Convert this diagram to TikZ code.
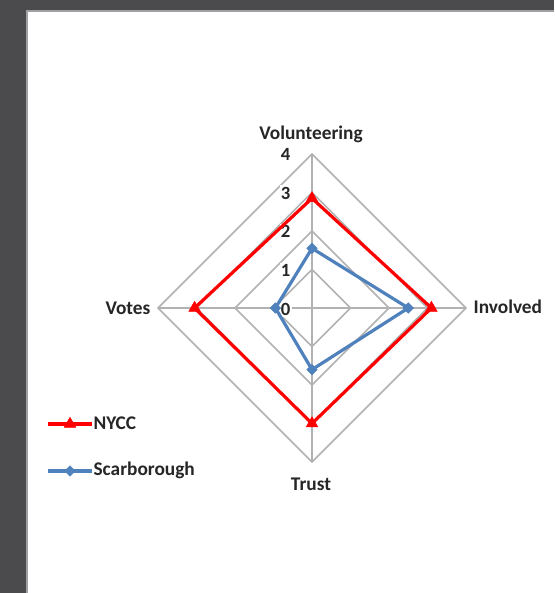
\documentclass[tikz,border=0pt]{standalone}
\usepackage{fontspec}
\setmainfont{Carlito}
\usetikzlibrary{shapes.geometric}

\definecolor{pagegray}{RGB}{75,75,77}
\definecolor{framegray}{RGB}{160,160,162}
\definecolor{gridgray}{RGB}{178,178,178}
\definecolor{scarblue}{RGB}{79,129,189}

\tikzset{
  gridline/.style={draw=gridgray, line width=1.2pt},
  nyccline/.style={draw=red, line width=2.4pt, line join=miter},
  scarline/.style={draw=scarblue, line width=2.4pt, line join=round},
  nyccmark/.style={regular polygon, regular polygon sides=3, fill=red, draw=red,
    inner sep=0pt, minimum size=10pt},
  scarmark/.style={diamond, fill=scarblue, draw=scarblue, inner sep=0pt,
    minimum width=8pt, minimum height=8pt},
  axislabel/.style={font=\fontsize{14.5}{16}\selectfont\bfseries, text=black!85, inner sep=1pt},
  ticklabel/.style={font=\fontsize{14}{16}\selectfont\bfseries, text=black!85, fill=white,
    inner sep=1pt, anchor=east},
}

\begin{document}
\begin{tikzpicture}[x=0.75pt,y=0.75pt,yscale=-1,xscale=1]

% page
\useasboundingbox (0, 0) rectangle (554, 593);
\fill [pagegray] (0, 0) rectangle (554, 593);
\fill [white] (27, 11) rectangle (554, 593);
\draw [framegray, line width=1.5pt] (27, 593) -- (27, 11) -- (554, 11);

% grid
\draw [gridline] (312, 269.5) -- (350.5, 308) -- (312, 346.5) -- (273.5, 308) -- cycle;
\draw [gridline] (312, 231) -- (389, 308) -- (312, 385) -- (235, 308) -- cycle;
\draw [gridline] (312, 192.5) -- (427.5, 308) -- (312, 423.5) -- (196.5, 308) -- cycle;
\draw [gridline] (312, 154) -- (466, 308) -- (312, 462) -- (158, 308) -- cycle;
\draw [gridline] (312, 154) -- (312, 462);
\draw [gridline] (158, 308) -- (466, 308);

% tick labels
\node [ticklabel] (t0) at (292, 309) {0};
\node [ticklabel] (t1) at (292, 270) {1};
\node [ticklabel] (t2) at (292, 231.5) {2};
\node [ticklabel] (t3) at (292, 193) {3};
\node [ticklabel] (t4) at (292, 154) {4};

% axis names
\node [axislabel] (vol) at (311, 134) {Volunteering};
\node [axislabel, anchor=west] (inv) at (472, 307) {Involved};
\node [axislabel] (tru) at (311, 484) {Trust};
\node [axislabel, anchor=east] (vot) at (152, 308) {Votes};

% NYCC
\coordinate (n1) at (312, 198.3);
\coordinate (n2) at (431.4, 308);
\coordinate (n3) at (312, 423.5);
\coordinate (n4) at (194.6, 308);
\draw [nyccline] (n1) -- (n2) -- (n3) -- (n4) -- cycle;

% Scarborough
\coordinate (s1) at (312, 248.3);
\coordinate (s2) at (408.3, 308);
\coordinate (s3) at (312, 369.6);
\coordinate (s4) at (275.4, 308);
\draw [scarline] (s1) -- (s2) -- (s3) -- (s4) -- cycle;

% markers
\node [nyccmark] (m1) at (n1) {};
\node [nyccmark] (m2) at (n2) {};
\node [nyccmark] (m3) at (n3) {};
\node [nyccmark] (m4) at (n4) {};
\node [scarmark] (d1) at (s1) {};
\node [scarmark] (d2) at (s2) {};
\node [scarmark] (d3) at (s3) {};
\node [scarmark] (d4) at (s4) {};

% legend
\coordinate (la) at (48, 424);
\coordinate (lb) at (92, 424);
\draw [nyccline] (la) -- (lb);
\node [nyccmark] (lm) at (70, 424) {};
\node [axislabel, anchor=west] (lnycc) at (92, 423) {NYCC};

\coordinate (lc) at (48, 471);
\coordinate (ld) at (92, 471);
\draw [scarline] (lc) -- (ld);
\node [scarmark] (ldm) at (70, 471) {};
\node [axislabel, anchor=west] (lscar) at (92, 470) {Scarborough};

\end{tikzpicture}
\end{document}
